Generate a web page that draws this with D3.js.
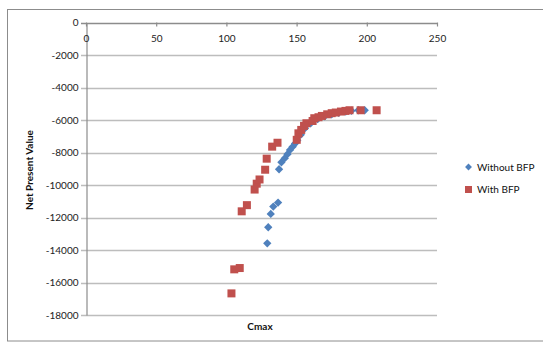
<!DOCTYPE html>
<html>
<head>
<meta charset="utf-8">
<script src="https://cdn.jsdelivr.net/npm/d3@7"></script>
<style>
body{margin:0;background:#fff;}
svg{display:block;}
text{font-family:Lato,"Open Sans",sans-serif;}
</style>
</head>
<body>
<svg id="chart" width="543" height="343"></svg>
<script>
// Data
const withoutX = [129.1, 129.8, 131.6, 133.4, 136.8, 137.5, 139.2, 141.6, 143.5, 145.3, 147.2, 148.9, 150.5, 153, 156, 160, 165, 170, 175, 180, 185, 189, 194, 198.5];
const withoutY = [-13590, -12600, -11780, -11330, -11080, -9030, -8600, -8350, -8100, -7840, -7640, -7450, -7250, -6900, -6500, -6200, -5950, -5780, -5650, -5560, -5480, -5430, -5400, -5400];
const withX = [103.6, 105.6, 109.5, 110.9, 114.6, 120.1, 121.6, 123.6, 127.6, 128.7, 132.6, 136.4, 150.1, 151.3, 153.3, 155.3, 157, 161.4, 162.6, 165.6, 168, 171.8, 175, 177.9, 181.6, 184.8, 187.7, 195.6, 207];
const withY = [-16670, -15190, -15110, -11620, -11240, -10280, -9920, -9660, -9060, -8380, -7640, -7400, -7220, -6820, -6610, -6360, -6200, -6060, -5890, -5830, -5750, -5650, -5580, -5540, -5480, -5440, -5400, -5400, -5400];
const xTicks = [0, 50, 100, 150, 200, 250];
const yTicks = [0, -2000, -4000, -6000, -8000, -10000, -12000, -14000, -16000, -18000];
const seriesNames = ["Without BFP", "With BFP"];
const seriesColors = ["#4F81BD", "#C0504D"];

const svg = d3.select("#chart");
// outer chart border
svg.append("rect").attr("x", 7.5).attr("y", 9.5).attr("width", 545).attr("height", 331.5)
  .attr("fill", "none").attr("stroke", "#8c8c8c").attr("stroke-width", 1);

const x = d3.scaleLinear().domain([0, 250]).range([86, 437]);
const y = d3.scaleLinear().domain([0, -18000]).range([22.5, 315]);

// gridlines
svg.append("g").selectAll("line").data(yTicks).join("line")
  .attr("x1", 81).attr("x2", 437)
  .attr("y1", d => Math.round(y(d)) + 0.5).attr("y2", d => Math.round(y(d)) + 0.5)
  .attr("stroke", d => d === 0 ? "#8c8c8c" : "#bdbdbd").attr("stroke-width", 1.3);

// y axis
const yAxis = d3.axisLeft(y).tickValues(yTicks).tickSize(0).tickPadding(8).tickFormat(d3.format("d"));
const gy = svg.append("g").attr("transform", "translate(86.5,0)").call(yAxis);
gy.select(".domain").attr("stroke", "#8c8c8c").attr("stroke-width", 1.2);
gy.selectAll("text").attr("font-size", "10px").attr("fill", "#222").attr("font-family", "Lato, sans-serif").text(d => d3.format("d")(d).replace("−", "-"));

// x axis (at top, labels below, ticks pointing into plot)
const xAxis = d3.axisBottom(x).tickValues(xTicks).tickSize(4).tickPadding(8);
const gx = svg.append("g").attr("transform", "translate(0,22.5)").call(xAxis);
gx.select(".domain").remove();
gx.selectAll(".tick line").attr("stroke", "#8c8c8c").attr("stroke-width", 1.2);
gx.selectAll("text").attr("font-size", "10px").attr("fill", "#222").attr("font-family", "Lato, sans-serif");

// axis titles
svg.append("text").attr("x", 260).attr("y", 330).attr("text-anchor", "middle")
  .attr("font-size", "10px").attr("font-weight", "bold").attr("fill", "#111").text("Cmax");
svg.append("text").attr("transform", "translate(33,170) rotate(-90)").attr("text-anchor", "middle")
  .attr("font-size", "10px").attr("font-weight", "bold").attr("fill", "#111").text("Net Present Value");

// series
const without = withoutX.map((v, i) => [v, withoutY[i]]);
const withB = withX.map((v, i) => [v, withY[i]]);
const diamond = d3.symbol().type(d3.symbolDiamond2).size(44);
svg.append("g").selectAll("path").data(without).join("path")
  .attr("d", diamond)
  .attr("transform", d => `translate(${x(d[0])},${y(d[1])})`)
  .attr("fill", seriesColors[0]);
svg.append("g").selectAll("rect").data(withB).join("rect")
  .attr("x", d => x(d[0]) - 4).attr("y", d => y(d[1]) - 4)
  .attr("width", 8).attr("height", 8)
  .attr("fill", seriesColors[1]);

// legend
const lg = svg.append("g");
lg.append("path").attr("d", d3.symbol().type(d3.symbolDiamond2).size(30))
  .attr("transform", "translate(468.5,167)").attr("fill", seriesColors[0]);
lg.append("rect").attr("x", 465).attr("y", 186).attr("width", 7).attr("height", 7).attr("fill", seriesColors[1]);
lg.selectAll("text").data(seriesNames).join("text")
  .attr("x", 477).attr("y", (d, i) => 170.5 + i * 22.5)
  .attr("font-size", "10px").attr("fill", "#111").text(d => d);
</script>
</body>
</html>
